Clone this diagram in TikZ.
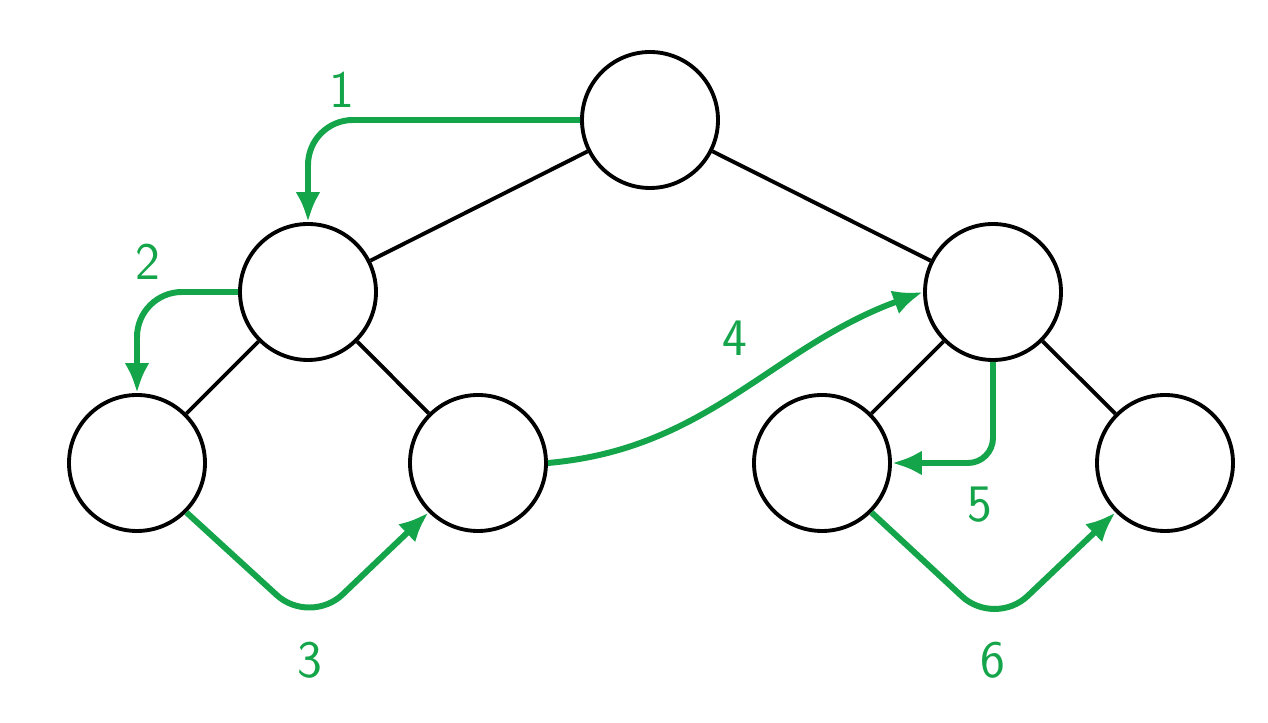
\documentclass[tikz,border=0pt]{standalone}
\usetikzlibrary{arrows.meta}
\definecolor{walkgreen}{RGB}{20,165,75}
\tikzset{
  vtx/.style={circle, draw=black, line width=2.2pt, minimum size=2.72cm, inner sep=0pt},
  walk/.style={draw=walkgreen, line width=3.4pt, rounded corners=0.9cm, -{Latex[length=0.6cm,width=0.5cm]}},
  num/.style={text=walkgreen, font=\fontsize{30}{36}\selectfont\sffamily}
}
\begin{document}
\begin{tikzpicture}
  \useasboundingbox (0,0) rectangle (25.36,14.46);
  % tree
  \node[vtx] (root) at (13.0,12.06) {};
  \node[vtx] (l) at (6.16,8.62) {};
  \node[vtx] (r) at (19.86,8.62) {};
  \node[vtx] (ll) at (2.74,5.2) {};
  \node[vtx] (lr) at (9.56,5.2) {};
  \node[vtx] (rl) at (16.44,5.2) {};
  \node[vtx] (rr) at (23.3,5.2) {};
  \draw[line width=2.2pt] (root) -- (l) (root) -- (r) (l) -- (ll) (l) -- (lr)
    (r) -- (rl) (r) -- (rr);

  % walk
  \coordinate (b3) at (6.2,1.95);
  \coordinate (b6) at (19.9,1.92);
  \draw[walk] (root.west) -| (l.north);
  \draw[walk] (l.west) -| (ll.north);
  \draw[walk] (ll.south east) -- (b3) -- (lr.south west);
  \draw[walk] (lr.east) to[out=5,in=200] (r.west);
  \draw[walk, rounded corners=0.5cm] (r.south) |- (rl.east);
  \draw[walk] (rl.south east) -- (b6) -- (rr.south west);

  \node[num] (n1) at (6.84,12.66) {1};
  \node[num] (n2) at (2.96,9.22) {2};
  \node[num] (n3) at (6.2,1.26) {3};
  \node[num] (n4) at (14.7,7.7) {4};
  \node[num] (n5) at (19.6,4.36) {5};
  \node[num] (n6) at (19.86,1.26) {6};
\end{tikzpicture}
\end{document}
